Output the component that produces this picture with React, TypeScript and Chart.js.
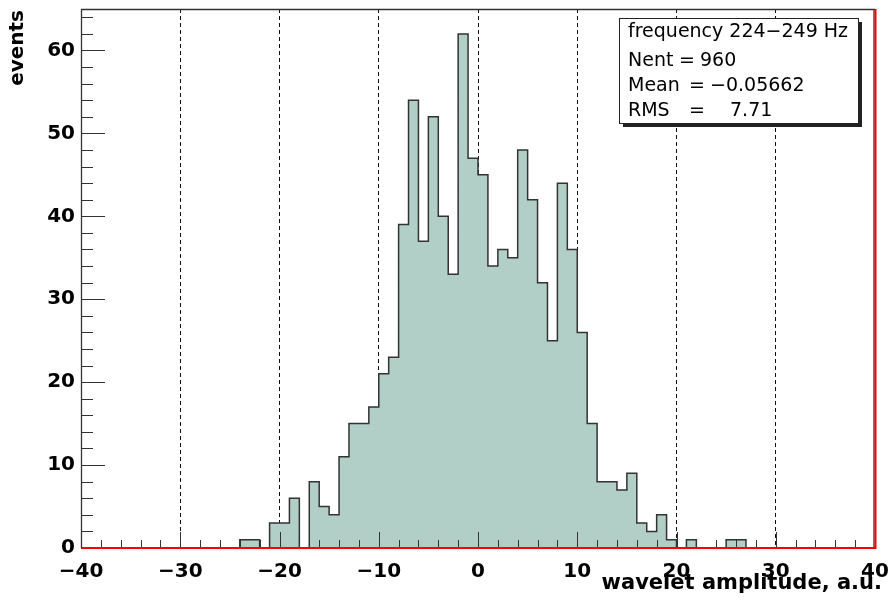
import React, { useEffect, useRef } from 'react';
import { Chart, registerables } from 'chart.js';

Chart.register(...registerables);

// ---- data ----
const binLow = -40;
const binWidth = 1;
// counts per 1-unit bin, from [-40,-39) up to [39,40)
const counts = [
  0, 0, 0, 0, 0, 0, 0, 0, 0, 0, 0, 0, 0, 0, 0, 0, // -40 .. -25
  1, 1, 0, 3, 3, 6, 0, 8, 5, 4, // -24 .. -15
  11, 15, 15, 17, 21, 23, 39, 54, 37, 52, // -14 .. -5
  40, 33, 62, 47, // -4 .. -1
  45, 34, 36, 35, 48, 42, 32, 25, 44, 36, // 0 .. 9
  26, 15, 8, 8, 7, 9, 3, 2, 4, 1, // 10 .. 19
  0, 1, 0, 0, 0, 1, 1, // 20 .. 26
  0, 0, 0, 0, 0, 0, 0, 0, 0, 0, 0, 0, 0, // 27 .. 39
];
const xMin = -40;
const xMax = 40;
const yMin = 0;
const yMax = 65;
const xMajorStep = 10;
const yMajorStep = 10;
const minorStep = 2;
const xTitle = 'wavelet amplitude, a.u.';
const yTitle = 'events';
const statsTitle = 'frequency 224\u2212249 Hz';
const statsNames = ['Nent', 'Mean', 'RMS'];
const statsValues = ['960', '\u22120.05662', '7.71'];

const FILL = 'rgb(178,207,199)';
const LINE = '#333333';
const TICKFONT = { family: '"DejaVu Sans", sans-serif', size: 20, weight: 'bold' as const };

const rootOverlay = {
  id: 'rootOverlay',
  afterDraw(chart: any) {
    const { ctx, chartArea: a, scales } = chart;
    const x = scales.x;
    const y = scales.y;
    ctx.save();
    const seg = (x1: number, y1: number, x2: number, y2: number) => {
      ctx.beginPath();
      ctx.moveTo(x1, y1);
      ctx.lineTo(x2, y2);
      ctx.stroke();
    };
    // tick marks (inside)
    ctx.strokeStyle = LINE;
    ctx.lineWidth = 1;
    for (let v = yMin; v <= yMax; v += minorStep) {
      const py = Math.round(y.getPixelForValue(v)) + 0.5;
      const len = v % yMajorStep === 0 ? 24 : 12;
      seg(a.left, py, a.left + len, py);
    }
    for (let v = xMin; v <= xMax; v += minorStep) {
      const px = Math.round(x.getPixelForValue(v)) + 0.5;
      const len = v % xMajorStep === 0 ? 16 : 8;
      seg(px, a.bottom, px, a.bottom - len);
    }
    // frame
    ctx.lineWidth = 1.3;
    seg(a.left, a.top + 0.5, a.right, a.top + 0.5);
    seg(a.left + 0.5, a.top, a.left + 0.5, a.bottom);
    seg(a.right - 1, a.top, a.right - 1, a.bottom);
    ctx.strokeStyle = '#ff0000';
    ctx.lineWidth = 2;
    seg(a.left + 1, a.bottom, a.right + 1, a.bottom);
    seg(a.right + 0.5, a.top, a.right + 0.5, a.bottom + 1);

    // axis titles
    ctx.fillStyle = '#000';
    ctx.font = 'bold 21px "DejaVu Sans", sans-serif';
    ctx.textAlign = 'right';
    ctx.textBaseline = 'middle';
    ctx.fillText(xTitle, 882, 584);
    ctx.save();
    ctx.translate(18, 10);
    ctx.rotate(-Math.PI / 2);
    ctx.font = 'bold 20px "DejaVu Sans", sans-serif';
    ctx.textAlign = 'right';
    ctx.textBaseline = 'middle';
    ctx.fillText(yTitle, 0, 0);
    ctx.restore();

    // stats box
    const bx = 619, by = 18, bw = 239, bh = 105;
    ctx.fillStyle = '#222';
    ctx.fillRect(bx + 4, by + 4, bw, bh);
    ctx.fillStyle = '#fff';
    ctx.fillRect(bx, by, bw, bh);
    ctx.strokeStyle = '#222';
    ctx.lineWidth = 1;
    ctx.strokeRect(bx + 0.5, by + 0.5, bw, bh);
    ctx.fillStyle = '#000';
    ctx.font = '19px "DejaVu Sans", sans-serif';
    ctx.textAlign = 'left';
    ctx.textBaseline = 'alphabetic';
    ctx.fillText(statsTitle, 628, 37);
    const baselines = [66, 91, 116];
    const eqX = [679, 689, 689];
    const valX = [700, 710, 730];
    statsNames.forEach((n, i) => {
      ctx.fillText(n, 628, baselines[i]);
      ctx.fillText('=', eqX[i], baselines[i]);
      ctx.fillText(statsValues[i], valX[i], baselines[i]);
    });
    ctx.restore();
  },
};

export default function App() {
  const ref = useRef<HTMLCanvasElement | null>(null);
  useEffect(() => {
    if (!ref.current) return;
    const points = counts.map((c, i) => ({ x: binLow + i * binWidth, y: c }));
    points.push({ x: binLow + counts.length * binWidth, y: counts[counts.length - 1] });
    const chart = new Chart(ref.current, {
      type: 'line',
      data: {
        datasets: [
          {
            data: points,
            stepped: 'before',
            fill: 'origin',
            backgroundColor: FILL,
            borderColor: LINE,
            borderWidth: 1.5,
            pointRadius: 0,
            pointHoverRadius: 0,
          },
        ],
      },
      options: {
        animation: false,
        responsive: false,
        events: [],
        layout: { padding: { left: 0, top: 9, right: 14, bottom: 0 } },
        plugins: { legend: { display: false }, tooltip: { enabled: false } },
        scales: {
          x: {
            type: 'linear',
            min: xMin,
            max: xMax,
            z: 1,
            afterFit: (s: any) => {
              s.height = 56;
              s.paddingLeft = 0;
              s.paddingRight = 0;
            },
            grid: {
              drawTicks: false,
              color: (c: any) => (c.tick && (c.tick.value === xMin || c.tick.value === xMax) ? 'rgba(0,0,0,0)' : '#111'),
              lineWidth: 1,
            },
            border: { display: false, dash: [4, 3] },
            ticks: {
              stepSize: xMajorStep,
              autoSkip: false,
              maxRotation: 0,
              padding: 12,
              color: '#000',
              font: TICKFONT,
              callback: (v: any) => String(v).replace('-', '\u2212'),
            },
          },
          y: {
            type: 'linear',
            min: yMin,
            max: yMax,
            afterFit: (s: any) => {
              s.width = 81;
              s.paddingTop = 0;
              s.paddingBottom = 0;
            },
            grid: { display: false, drawTicks: false },
            border: { display: false },
            ticks: {
              stepSize: yMajorStep,
              includeBounds: false,
              padding: 6,
              color: '#000',
              font: TICKFONT,
            },
          },
        },
      },
      plugins: [rootOverlay],
    });
    return () => chart.destroy();
  }, []);
  return (
    <div style={{ position: 'fixed', left: 0, top: 0, width: 889, height: 604, background: '#fff' }}>
      <canvas ref={ref} width={889} height={604} style={{ display: 'block' }} />
    </div>
  );
}
